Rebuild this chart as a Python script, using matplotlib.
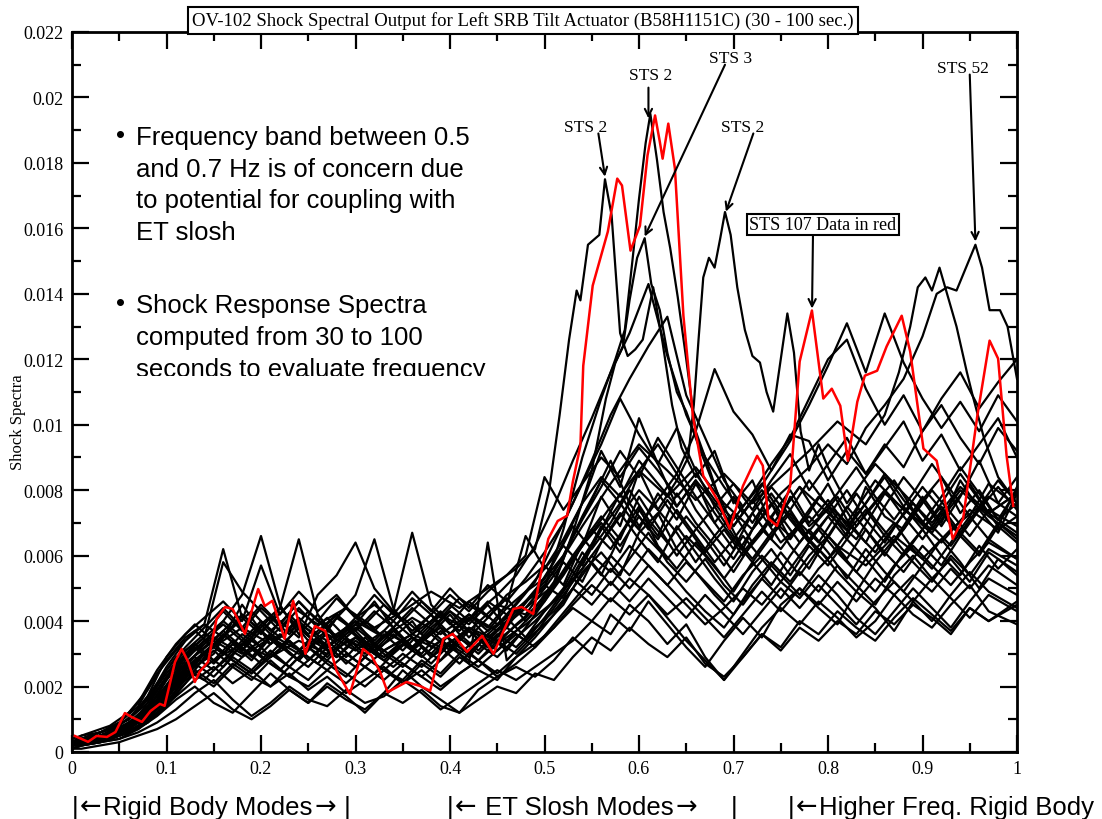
import matplotlib.pyplot as plt
from matplotlib.transforms import Bbox, TransformedBbox

# values are in units of 1e-3 (shock spectra); two sampling grids so the wiggles don't line up
grid_a = [0.00, 0.02, 0.04, 0.06, 0.08, 0.10, 0.12, 0.14, 0.16, 0.18,
          0.20, 0.22, 0.24, 0.26, 0.28, 0.30, 0.32, 0.34, 0.36, 0.38,
          0.40, 0.42, 0.44, 0.46, 0.48, 0.50, 0.52, 0.54, 0.56, 0.58,
          0.60, 0.62, 0.64, 0.66, 0.68, 0.70, 0.72, 0.74, 0.76, 0.78,
          0.80, 0.82, 0.84, 0.86, 0.88, 0.90, 0.92, 0.94, 0.96, 0.98, 1.00]
grid_b = [0.00, 0.01, 0.03, 0.05, 0.07, 0.09, 0.11, 0.13, 0.15, 0.17,
          0.19, 0.21, 0.23, 0.25, 0.27, 0.29, 0.31, 0.33, 0.35, 0.37,
          0.39, 0.41, 0.43, 0.45, 0.47, 0.49, 0.51, 0.53, 0.55, 0.57,
          0.59, 0.61, 0.63, 0.65, 0.67, 0.69, 0.71, 0.73, 0.75, 0.77,
          0.79, 0.81, 0.83, 0.85, 0.87, 0.89, 0.91, 0.93, 0.95, 0.97, 1.00]

b01 = [0.4,0.6,0.8,1.2,1.9,2.8,3.5,3.9,6.2,4.1,3.6,4.4,3.8,3.3,4.1,3.7,3.1,3.5,4.0,3.2,3.6,4.2,3.7,4.4,4.9,5.3,6.4,7.6,9.2,8.1,10.2,8.8,7.5,8.3,7.0,6.2,7.3,6.5,7.8,6.9,7.4,6.6,8.1,7.2,6.8,7.7,8.4,7.3,8.0,7.1,7.6]
b02 = [0.1,0.2,0.3,0.4,0.6,0.9,1.3,1.8,2.2,1.6,1.1,1.5,2.0,1.6,1.4,1.9,1.5,1.7,2.2,1.8,1.3,1.7,2.1,2.5,2.2,2.6,3.0,3.4,4.0,3.6,4.5,4.0,3.3,3.9,2.9,2.2,3.0,3.8,4.4,3.9,4.6,4.1,3.5,4.0,4.8,4.2,3.8,4.5,5.1,4.3,3.9]
b03 = [0.2,0.2,0.3,0.5,0.7,1.1,1.6,2.0,1.5,1.2,1.8,2.4,1.9,1.5,2.1,1.7,1.2,1.8,2.5,2.0,1.6,1.2,1.9,2.3,2.6,2.3,2.8,3.5,3.0,4.2,3.7,4.6,3.9,3.2,2.6,3.4,4.1,3.5,4.5,5.0,4.4,3.9,4.9,4.4,3.7,4.6,5.3,4.7,4.1,4.8,4.3]
b04 = [0.3,0.4,0.5,0.8,1.2,1.8,2.6,3.3,4.0,4.8,6.6,4.5,3.6,4.2,3.5,3.9,4.6,3.8,3.2,3.7,4.3,3.9,4.5,3.8,4.6,5.1,4.7,5.8,6.9,6.1,7.4,6.6,7.9,7.0,6.3,5.5,6.4,7.2,6.3,5.6,6.6,7.5,6.8,6.0,6.9,7.8,7.0,8.3,7.4,6.7,7.9]
b05 = [0.2,0.3,0.5,0.6,0.9,1.4,2.1,2.9,3.6,3.1,3.9,4.4,6.5,4.2,3.4,4.0,3.3,3.8,3.1,3.6,4.2,3.5,4.1,4.7,4.0,4.6,5.5,6.3,7.8,6.9,8.6,7.4,6.7,5.8,6.6,5.9,6.8,7.6,6.5,7.3,8.2,7.1,6.4,7.5,8.4,7.7,6.9,7.8,8.9,7.6,8.4]
b06 = [0.3,0.4,0.6,0.9,1.3,2.2,2.9,3.4,3.0,3.6,3.2,4.0,3.5,4.8,5.4,6.4,5.0,4.3,3.7,4.2,3.6,4.1,3.5,4.0,4.6,5.0,5.8,5.2,6.4,7.3,6.5,5.8,6.9,6.1,5.3,4.6,5.5,6.2,5.4,6.3,5.7,6.5,5.9,5.2,6.1,6.8,6.0,5.4,6.3,5.6,6.2]
b07 = [0.2,0.3,0.4,0.6,0.9,1.5,2.3,3.0,3.5,4.2,3.7,3.2,3.8,3.3,4.1,4.8,6.5,4.4,3.6,4.2,3.4,3.0,3.6,4.1,3.5,4.3,5.0,6.1,5.4,6.6,7.5,6.3,5.6,6.4,5.7,4.9,5.8,5.1,6.0,6.8,6.1,5.3,6.2,5.5,4.9,5.7,6.5,5.8,5.0,5.9,5.4]
b08 = [0.3,0.5,0.7,1.0,1.6,2.4,3.1,3.6,4.3,3.7,4.4,3.9,4.6,4.0,3.5,4.1,3.7,4.3,6.7,4.5,3.9,4.6,4.1,4.8,5.2,5.7,5.1,6.4,7.2,6.5,7.8,6.9,6.0,6.8,7.5,6.6,5.9,6.7,7.4,6.5,7.2,8.0,7.1,6.4,7.3,8.1,7.4,6.6,7.5,8.3,7.6]
b09 = [0.1,0.1,0.2,0.3,0.5,0.7,1.0,1.4,1.8,1.3,1.0,1.4,1.9,1.5,2.0,1.6,1.3,1.8,1.5,1.9,1.4,1.2,1.6,2.0,1.8,2.4,2.2,2.9,3.5,3.1,3.8,3.3,2.9,3.5,2.7,2.3,2.9,3.6,3.1,3.8,3.4,4.0,3.6,4.3,3.9,4.5,4.1,3.6,4.4,4.0,4.6]
b10 = [0.2,0.3,0.4,0.6,1.0,1.7,2.5,2.2,2.8,3.4,2.9,2.5,3.1,2.7,3.3,2.8,2.4,3.0,3.5,2.9,3.3,2.7,6.4,2.8,3.4,3.9,4.5,5.5,6.1,5.4,6.7,7.3,6.2,5.5,4.8,4.2,5.1,5.8,5.2,6.0,6.6,5.9,6.8,6.1,5.5,6.3,5.7,6.6,6.0,6.9,6.4]
b11 = [0.3,0.3,0.5,0.7,1.1,1.9,2.7,3.2,2.7,3.3,2.8,3.5,3.0,2.6,3.2,3.8,3.3,2.9,3.4,3.0,3.7,3.2,2.8,3.3,3.9,4.4,5.2,6.6,7.7,8.9,7.6,6.8,7.7,6.9,6.1,6.8,6.0,6.7,7.6,6.8,6.1,7.0,7.9,7.1,6.4,7.2,8.0,7.3,6.6,7.4,6.9]
b12 = [0.2,0.4,0.5,0.7,1.0,1.6,2.3,2.8,3.3,2.8,2.4,3.0,2.6,3.2,2.7,2.3,2.9,2.5,2.2,2.8,2.4,3.0,2.6,3.1,3.6,3.2,3.9,4.6,5.3,6.0,5.4,6.2,5.6,4.9,4.3,3.8,4.6,5.3,4.7,5.5,4.9,5.7,5.1,4.5,5.4,6.0,5.3,5.9,5.2,6.1,5.5]
b13 = [0.3,0.5,0.7,1.0,1.7,2.9,3.6,4.1,4.6,4.0,5.7,4.2,4.9,4.3,4.8,4.1,4.5,4.0,4.7,4.2,4.8,4.3,4.9,5.4,6.0,8.4,7.4,8.2,9.4,10.8,9.7,8.8,9.9,8.6,7.5,8.2,7.4,8.3,9.1,8.0,8.8,9.6,8.5,9.3,10.1,8.9,9.7,8.6,9.4,10.2,9.0]
b14 = [0.2,0.3,0.4,0.6,0.9,1.4,2.0,2.6,3.1,2.6,3.2,2.7,2.3,2.8,3.4,2.9,3.5,3.0,2.6,3.2,2.8,3.5,3.0,3.6,3.2,3.8,4.3,5.0,5.8,5.1,5.9,6.7,5.8,5.2,5.9,5.1,4.5,5.3,6.1,5.4,6.2,5.5,4.9,5.8,6.5,5.8,5.2,6.0,5.4,6.2,5.7]
b15 = [0.3,0.4,0.6,0.8,1.3,2.2,3.0,3.5,5.8,4.9,4.3,3.7,4.4,3.8,3.3,3.9,3.4,4.0,3.5,3.0,3.6,4.2,3.8,4.5,6.6,5.6,6.3,5.7,6.8,7.9,6.9,7.7,8.5,7.4,6.6,7.3,6.4,7.2,8.0,7.0,7.7,6.9,7.6,8.4,7.5,6.8,7.6,8.5,7.7,6.9,8.1]
b16 = [0.2,0.3,0.4,0.5,0.8,1.2,1.8,2.4,2.0,2.6,2.2,2.8,2.3,2.0,2.5,2.1,2.6,2.2,2.7,2.3,1.9,2.4,2.8,2.4,2.9,3.3,3.8,4.5,5.1,4.6,5.3,4.8,4.2,4.7,4.1,3.5,4.2,4.9,4.3,5.0,4.5,5.2,4.6,5.3,4.8,5.4,4.9,5.6,5.0,5.7,5.1]
b17 = [0.3,0.4,0.6,0.9,1.4,2.4,3.1,3.7,3.2,3.8,4.3,3.7,4.2,3.6,4.1,3.5,4.0,3.5,4.1,3.6,4.2,3.7,4.4,3.9,4.5,5.2,6.4,7.6,8.9,10.3,11.4,12.4,13.3,10.9,9.6,8.3,7.5,8.2,7.3,8.1,7.2,7.9,8.7,7.8,7.1,7.9,8.8,8.0,7.2,8.2,7.5]
b18 = [0.2,0.4,0.5,0.7,1.1,1.8,2.5,3.0,3.6,3.1,3.7,3.2,3.8,3.3,2.9,3.4,3.0,3.6,3.1,3.7,3.2,3.8,3.4,4.0,4.6,5.3,6.0,7.2,8.3,7.6,8.6,9.4,8.5,9.8,11.7,10.4,9.7,8.6,9.7,9.5,8.3,9.2,8.5,9.4,8.7,9.8,10.6,9.6,8.8,9.9,9.2]
b19 = [0.3,0.5,0.6,0.9,1.5,2.5,3.3,3.9,3.4,4.0,3.5,4.1,3.6,4.3,3.8,4.4,3.9,4.5,4.0,4.6,4.1,4.7,4.3,4.8,5.4,6.3,7.5,8.9,10.2,11.6,12.8,14.3,12.1,10.3,9.0,8.1,7.3,8.0,7.2,6.4,7.1,7.8,6.9,7.6,8.3,7.4,6.7,7.5,8.2,7.3,7.9]
b20 = [0.1,0.2,0.3,0.4,0.7,1.2,1.7,2.2,2.6,2.1,2.5,2.0,2.4,1.9,2.3,1.8,2.2,2.6,2.1,2.5,2.0,2.4,2.8,2.3,2.7,3.2,3.8,4.4,4.0,4.7,4.2,4.8,4.1,3.4,2.8,2.2,2.9,3.6,3.2,4.0,3.6,4.3,3.8,3.4,4.1,4.7,4.2,3.7,4.4,4.0,4.5]
b21 = [0.2,0.3,0.4,0.6,0.9,1.5,2.1,2.7,2.3,2.9,2.5,3.1,2.6,3.2,2.8,3.4,2.9,2.5,3.0,2.6,3.2,2.7,3.3,2.9,3.5,4.0,4.6,5.3,4.8,5.6,5.0,5.7,5.1,4.5,3.9,4.4,5.0,4.5,5.2,4.7,5.4,4.8,4.1,3.6,4.3,5.0,4.4,3.8,4.6,5.3,4.8]
b22 = [0.3,0.4,0.6,0.8,1.2,2.0,2.8,3.4,3.9,3.4,4.0,3.5,4.1,3.6,4.2,3.7,4.3,3.8,4.4,3.9,4.5,4.0,4.6,4.2,4.9,5.6,6.5,7.6,8.4,7.8,8.9,8.2,7.5,8.3,7.6,6.9,7.7,8.6,9.5,10.6,11.8,13.1,11.6,13.4,11.9,10.8,9.9,10.7,9.8,10.9,10.1]
b23 = [0.2,0.3,0.5,0.7,1.0,1.7,2.4,2.9,2.5,3.0,3.5,2.9,3.4,2.8,3.3,2.7,3.2,2.8,3.3,2.9,3.4,3.0,3.5,3.1,3.7,4.3,5.1,6.0,6.8,6.2,7.1,6.5,5.9,6.6,6.0,5.3,6.1,6.8,6.2,7.0,6.4,7.3,6.7,6.1,6.9,7.6,6.9,6.3,7.1,7.8,7.2]
b24 = [0.3,0.5,0.7,1.0,1.5,2.5,3.2,3.8,4.4,3.8,4.5,3.9,4.6,4.0,4.7,4.1,4.8,4.2,4.9,4.3,5.0,4.4,5.1,4.6,5.3,6.1,7.0,8.2,9.0,8.4,9.3,8.6,7.8,8.5,7.7,7.1,7.9,8.8,9.6,10.8,12.0,12.6,11.1,10.0,10.9,9.8,10.8,11.6,10.5,11.3,12.0]
b25 = [0.2,0.3,0.4,0.6,1.0,1.6,2.4,3.0,2.6,3.3,3.9,3.3,2.8,3.5,3.0,2.6,3.2,3.8,3.2,2.7,3.3,2.9,3.6,3.1,3.8,4.6,5.4,6.3,7.0,6.3,7.2,6.5,7.4,6.6,5.8,6.5,5.8,6.6,7.3,6.5,5.9,6.7,7.4,6.6,6.0,6.8,7.5,6.7,6.1,7.0,6.5]
b26 = [0.2,0.3,0.5,0.8,1.3,2.1,2.9,3.3,2.8,3.4,2.9,3.5,4.1,3.4,2.9,3.5,3.0,3.6,3.1,3.7,4.3,3.6,3.1,3.7,4.2,4.9,5.8,6.9,6.2,7.0,8.0,7.1,6.4,7.2,6.5,5.7,6.6,5.9,5.2,6.0,6.8,6.1,5.5,6.3,7.0,6.2,5.6,6.4,7.2,6.5,5.9]
b27 = [0.1,0.2,0.3,0.5,0.8,1.3,2.0,2.5,2.1,2.7,2.3,2.0,2.6,2.2,2.8,2.4,2.0,2.5,2.1,2.7,2.3,2.9,2.5,2.2,2.9,3.5,4.2,5.0,4.5,5.2,4.6,5.3,4.7,4.1,4.8,4.2,3.6,4.3,5.0,4.4,5.1,4.5,3.9,4.6,5.2,4.6,4.0,4.8,5.5,4.9,4.4]
b28 = [0.3,0.4,0.6,0.9,1.4,2.3,3.0,3.5,4.0,3.5,3.0,3.6,3.1,3.7,4.2,3.6,3.1,3.7,3.2,3.8,4.3,3.7,3.2,3.9,4.4,5.1,6.0,7.1,8.1,9.2,8.4,9.6,8.7,7.8,7.0,7.8,7.0,7.9,7.1,6.4,7.2,6.5,7.3,8.0,7.2,6.5,7.3,6.6,7.4,8.1,7.4]
b29 = [0.2,0.3,0.4,0.6,0.9,1.5,2.2,2.8,3.3,2.8,2.4,2.9,3.4,2.9,2.5,3.0,2.6,3.1,2.7,2.3,2.8,3.3,2.8,3.4,3.0,3.6,4.4,5.2,6.0,5.5,6.3,5.7,5.1,5.8,5.2,4.6,5.4,6.0,5.4,4.8,5.6,6.2,5.5,4.9,5.7,6.3,5.7,5.1,5.8,6.4,5.9]
b30 = [0.3,0.4,0.6,0.8,1.2,2.0,2.7,3.2,3.7,3.2,2.7,3.3,2.8,3.4,2.9,3.5,3.0,2.6,3.1,3.6,3.1,3.7,3.2,3.8,3.4,4.1,4.9,5.9,6.8,7.6,6.8,7.9,7.1,8.2,7.3,6.5,7.3,8.1,7.4,8.3,7.5,6.8,7.6,8.5,7.7,7.0,7.8,8.7,7.9,7.1,8.0]

# labelled black flights
sts2a_x = [0,0.02,0.04,0.06,0.08,0.1,0.12,0.14,0.16,0.18,0.2,0.23,0.26,0.29,0.32,0.35,0.38,0.41,0.44,0.47,0.49,0.505,0.516,0.526,0.534,0.538,0.546,0.558,0.564,0.571,0.58,0.588,0.596,0.604,0.615,0.625,0.635,0.645,0.66,0.68,0.70,0.72,0.74,0.77,0.80,0.83,0.86,0.89,0.92,0.95,0.98,1.0]
sts2a_y = [0.3,0.5,0.7,1.0,1.6,2.6,3.4,3.9,3.5,4.2,3.7,4.5,3.9,4.4,3.8,4.3,4.9,4.4,5.0,5.6,6.2,8.0,10.3,12.6,14.1,13.8,15.5,15.8,17.5,16.4,12.8,12.1,12.3,12.6,14.2,12.5,10.6,9.3,8.4,9.2,7.6,8.3,6.9,8.1,7.3,6.5,7.9,7.2,6.4,7.4,6.8,7.2]
sts2b_x = [0,0.03,0.06,0.09,0.12,0.15,0.18,0.21,0.24,0.27,0.30,0.33,0.36,0.39,0.42,0.45,0.48,0.50,0.52,0.54,0.56,0.575,0.585,0.593,0.600,0.607,0.612,0.619,0.626,0.633,0.641,0.650,0.66,0.675,0.69,0.71,0.73,0.76,0.79,0.82,0.85,0.88,0.91,0.94,0.97,1.0]
sts2b_y = [0.2,0.4,0.7,1.3,2.4,3.0,4.5,3.3,4.0,3.2,3.8,3.1,3.6,4.2,3.7,4.5,4.2,5.0,6.8,9.0,10.8,12.0,12.9,15.0,16.9,18.6,19.5,18.1,16.5,15.4,13.9,12.0,9.8,8.6,7.3,6.2,7.4,6.6,7.8,7.0,8.3,7.4,6.8,8.0,7.2,6.6]
sts3_x = [0,0.03,0.06,0.09,0.12,0.15,0.18,0.21,0.24,0.27,0.30,0.33,0.36,0.39,0.42,0.45,0.48,0.51,0.53,0.55,0.565,0.575,0.583,0.59,0.598,0.606,0.613,0.622,0.63,0.64,0.65,0.665,0.68,0.70,0.72,0.75,0.78,0.81,0.84,0.87,0.90,0.93,0.96,1.0]
sts3_y = [0.3,0.4,0.8,1.6,2.9,3.5,3.0,3.6,3.1,3.7,3.3,2.9,3.5,3.1,3.8,3.4,4.1,5.1,6.7,8.6,10.8,11.9,12.4,13.8,15.1,15.7,14.3,13.5,12.2,11.0,10.4,9.2,8.1,6.9,7.7,6.4,7.2,6.3,5.7,6.6,5.9,6.8,7.5,6.7]
sts2c_x = [0,0.03,0.06,0.09,0.12,0.15,0.18,0.21,0.24,0.27,0.30,0.33,0.36,0.39,0.42,0.45,0.48,0.51,0.54,0.57,0.60,0.62,0.64,0.652,0.658,0.663,0.668,0.674,0.68,0.686,0.691,0.697,0.704,0.712,0.72,0.728,0.735,0.742,0.75,0.757,0.764,0.771,0.78,0.79,0.80,0.82,0.85,0.88,0.91,0.94,0.97,1.0]
sts2c_y = [0.2,0.4,0.6,1.2,2.2,2.8,3.3,2.9,3.4,3.0,3.5,3.1,3.6,3.2,3.7,3.3,3.9,4.6,5.6,6.8,8.0,7.4,8.3,9.0,10.6,12.6,14.5,15.1,14.8,15.7,16.5,15.8,14.2,12.9,12.1,11.9,11.0,10.4,12.0,13.4,12.2,9.8,8.6,9.4,8.7,7.6,8.8,7.9,7.0,8.1,7.3,7.9]
sts52_x = [0,0.03,0.06,0.09,0.12,0.15,0.18,0.21,0.24,0.27,0.30,0.33,0.36,0.39,0.42,0.45,0.48,0.51,0.54,0.57,0.60,0.63,0.66,0.69,0.72,0.75,0.78,0.80,0.82,0.84,0.86,0.88,0.90,0.915,0.926,0.936,0.946,0.956,0.963,0.971,0.982,0.99,1.0]
sts52_y = [0.2,0.4,0.7,1.4,2.6,3.2,3.8,3.3,3.9,3.4,4.0,3.5,4.1,3.6,4.2,3.7,4.4,5.1,6.3,7.5,8.6,7.8,8.7,7.6,6.8,7.9,8.7,9.4,8.8,9.9,10.6,11.4,12.7,14.0,14.2,14.1,14.8,15.5,14.8,13.5,13.5,13.0,11.4]
upper_x = [0,0.03,0.06,0.09,0.12,0.15,0.18,0.21,0.24,0.27,0.30,0.33,0.36,0.39,0.42,0.45,0.48,0.51,0.54,0.57,0.60,0.63,0.66,0.69,0.72,0.75,0.78,0.81,0.84,0.86,0.875,0.887,0.895,0.903,0.91,0.918,0.927,0.936,0.947,0.953,0.965,0.98,1.0]
upper_y = [0.3,0.5,0.8,1.5,2.7,3.4,2.9,3.5,3.0,3.6,3.1,3.7,3.2,3.8,3.3,3.9,4.6,5.5,6.9,8.2,9.4,8.6,7.7,8.5,7.6,8.4,9.2,10.1,9.4,10.3,11.6,13.0,14.2,14.5,14.1,14.8,13.9,13.0,11.6,10.9,9.6,8.4,7.6]

# STS 107 (red)
red_x = [0.003,0.017,0.026,0.037,0.046,0.056,0.063,0.074,0.083,0.093,0.098,0.109,0.116,0.123,0.130,0.135,0.144,0.153,0.162,0.170,
         0.183,0.197,0.204,0.212,0.225,0.234,0.241,0.247,0.257,0.268,0.280,0.294,0.308,0.317,0.326,0.334,0.354,0.368,0.379,0.393,
         0.403,0.418,0.434,0.446,0.467,0.476,0.488,0.495,0.504,0.514,0.524,0.530,0.538,0.541,0.551,0.567,0.577,0.582,0.591,0.601,
         0.609,0.617,0.622,0.625,0.631,0.638,0.647,0.657,0.668,0.684,0.696,0.710,0.725,0.731,0.737,0.746,0.760,0.770,0.783,0.795,
         0.804,0.813,0.821,0.831,0.839,0.852,0.862,0.878,0.887,0.901,0.915,0.932,0.943,0.958,0.971,0.980,0.989,0.996]
red_y = [0.49,0.31,0.49,0.46,0.61,1.19,1.07,0.92,1.25,1.47,1.41,2.75,3.15,2.75,2.14,2.45,2.75,4.07,4.43,4.37,
         3.61,4.98,4.46,4.62,3.46,4.62,3.82,3.00,3.85,3.70,2.48,1.77,3.15,2.94,2.45,1.83,2.14,2.02,1.87,3.46,
         3.61,3.06,3.55,3.00,4.37,4.43,4.22,5.29,6.51,7.06,7.22,8.26,9.36,11.8,14.25,15.9,17.52,17.31,15.32,16.08,
         18.23,19.45,18.65,18.13,19.20,17.83,13.33,10.27,8.44,7.65,6.82,8.13,9.05,8.75,7.13,6.91,8.13,11.93,13.49,10.80,
         11.10,10.58,8.90,10.70,11.50,11.65,12.39,13.33,12.23,9.27,8.90,6.51,7.13,10.27,12.57,12.02,9.05,7.52]

x_ticks = [0, 0.1, 0.2, 0.3, 0.4, 0.5, 0.6, 0.7, 0.8, 0.9, 1.0]
x_labels = ['0', '0.1', '0.2', '0.3', '0.4', '0.5', '0.6', '0.7', '0.8', '0.9', '1']
y_ticks = [0, 0.002, 0.004, 0.006, 0.008, 0.010, 0.012, 0.014, 0.016, 0.018, 0.020, 0.022]
y_labels = ['0', '0.002', '0.004', '0.006', '0.008', '0.01', '0.012', '0.014', '0.016', '0.018', '0.02', '0.022']

# (label, label x, label y, arrow start x, y, arrow tip x, y)
notes = [
    ('STS 2', 0.543, 0.0191, 0.557, 0.0189, 0.564, 0.01758),
    ('STS 2', 0.612, 0.0207, 0.610, 0.0203, 0.610, 0.01936),
    ('STS 3', 0.697, 0.0212, 0.691, 0.0210, 0.606, 0.01575),
    ('STS 2', 0.710, 0.0191, 0.721, 0.0189, 0.692, 0.01651),
    ('STS 52', 0.943, 0.0209, 0.950, 0.0207, 0.956, 0.0156),
]

serif = ['Liberation Serif', 'DejaVu Serif']
sans = ['Liberation Sans', 'DejaVu Sans']

fig = plt.figure(figsize=(11.02, 8.2), dpi=100)
ax = fig.add_axes([72 / 1102, 1 - 753 / 820, 945 / 1102, 720 / 820])

on_a = [b01, b04, b05, b06, b07, b08, b10, b13, b15, b18, b22, b24, b25, b28, b30]
on_b = [b02, b03, b09, b11, b12, b14, b16, b17, b19, b20, b21, b23, b26, b27, b29]
for ys in on_a:
    ax.plot(grid_a, [v * 1e-3 for v in ys], color='black', lw=1.6)
for ys in on_b:
    ax.plot(grid_b, [v * 1e-3 for v in ys], color='black', lw=1.6)
for xs, ys in [(sts2a_x, sts2a_y), (sts2b_x, sts2b_y), (sts3_x, sts3_y),
               (sts2c_x, sts2c_y), (sts52_x, sts52_y), (upper_x, upper_y)]:
    ax.plot(xs, [v * 1e-3 for v in ys], color='black', lw=1.6)
ax.plot(red_x, [v * 1e-3 for v in red_y], color='red', lw=1.8, zorder=5)

ax.set_xlim(0, 1)
ax.set_ylim(0, 0.022)
ax.set_xticks(x_ticks)
ax.set_xticklabels(x_labels, fontfamily=serif, fontsize=13)
ax.set_yticks(y_ticks)
ax.set_yticklabels(y_labels, fontfamily=serif, fontsize=13)
ax.set_xticks([0.05, 0.15, 0.25, 0.35, 0.45, 0.55, 0.65, 0.75, 0.85, 0.95], minor=True)
ax.set_yticks([0.001, 0.003, 0.005, 0.007, 0.009, 0.011, 0.013, 0.015, 0.017, 0.019, 0.021], minor=True)
ax.tick_params(which='both', direction='in', top=True, right=True, width=1.6)
ax.tick_params(which='major', length=12, pad=6)
ax.tick_params(which='minor', length=6.5)
for s in ax.spines.values():
    s.set_linewidth(2)

ax.set_ylabel('Shock Spectra', fontfamily=serif, fontsize=12)
ax.yaxis.set_label_coords(-0.049, 0.46)

for lab, tx, ty, sx, sy, px, py in notes:
    ax.text(tx, ty, lab, fontfamily=serif, fontsize=12.5, ha='center', va='center', zorder=7)
    ax.annotate('', xy=(px, py), xytext=(sx, sy),
                arrowprops=dict(arrowstyle='->', color='black', lw=1.5,
                                mutation_scale=13, shrinkA=0, shrinkB=0), zorder=7)

ax.text(0.7947, 0.01612, 'STS 107 Data in red', fontfamily=serif, fontsize=13,
        ha='center', va='center', zorder=8,
        bbox=dict(boxstyle='square,pad=0.12', fc='white', ec='black', lw=1.5))
ax.annotate('', xy=(0.7831, 0.01355), xytext=(0.7841, 0.01578),
            arrowprops=dict(arrowstyle='->', color='black', lw=1.5,
                            mutation_scale=13, shrinkA=0, shrinkB=0), zorder=7)

fig.text(523 / 1102, 1 - 21.5 / 820,
         'OV-102 Shock Spectral Output for Left SRB Tilt Actuator (B58H1151C) (30 - 100 sec.)',
         fontfamily=serif, fontsize=13.5, ha='center', va='center',
         bbox=dict(boxstyle='square,pad=0.22', fc='white', ec='black', lw=1.5))

# bullet notes (the last line is cut off in the original slide)
clip = TransformedBbox(Bbox([[0, 1 - 377 / 820], [1, 1]]), fig.transFigure)
bullet_lines = [
    (145, 'Frequency band between 0.5'),
    (177, 'and 0.7 Hz is of concern due'),
    (208, 'to potential for coupling with'),
    (240, 'ET slosh'),
    (313, 'Shock Response Spectra'),
    (345, 'computed from 30 to 100'),
    (377, 'seconds to evaluate frequency'),
]
for yb, line in bullet_lines:
    t = fig.text(136 / 1102, 1 - yb / 820, line, fontfamily=sans, fontsize=18.5,
                 ha='left', va='baseline')
    t.set_clip_box(clip)
    t.set_clip_on(True)
for yb in [143, 311]:
    fig.text(116 / 1102, 1 - yb / 820, '\u2022', fontfamily=sans, fontsize=18.5,
             ha='left', va='baseline')

# bottom band labels, arrows taken from DejaVu Sans
renderer = fig.canvas.get_renderer()


def band_label(x_px, pieces):
    for s, fam in pieces:
        t = fig.text(x_px / 1102, 1 - 815 / 820, s, fontfamily=fam, fontsize=18.5,
                     ha='left', va='baseline')
        x_px += t.get_window_extent(renderer).width + 1.5


band_label(72, [('|', sans), ('\u2190', 'DejaVu Sans'), ('Rigid Body Modes', sans),
                ('\u2192', 'DejaVu Sans'), (' |', sans)])
band_label(447, [('|', sans), ('\u2190', 'DejaVu Sans'), (' ET Slosh Modes', sans),
                 ('\u2192', 'DejaVu Sans')])
band_label(731, [('|', sans)])
band_label(788, [('|', sans), ('\u2190', 'DejaVu Sans'), ('Higher Freq. Rigid Body', sans)])

fig.savefig('out.png', dpi=100)
